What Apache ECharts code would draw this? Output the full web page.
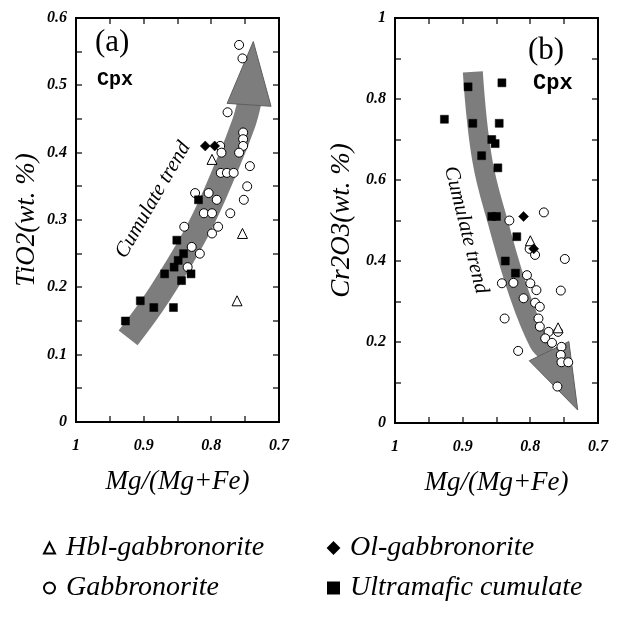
<!DOCTYPE html>
<html>
<head>
<meta charset="utf-8">
<script src="https://cdn.jsdelivr.net/npm/echarts@6/dist/echarts.min.js"></script>
<style>
  html, body { margin: 0; padding: 0; background: #fff; }
  #chart { width: 623px; height: 619px; }
</style>
</head>
<body>
<div id="chart"></div>
<script>
// (a) TiO2 vs Mg/(Mg+Fe)
var tiHbl = [[0.799, 0.39], [0.754, 0.28], [0.762, 0.18]]
var tiOl = [[0.809, 0.41], [0.795, 0.41]]
var tiGab = [
  [0.759, 0.56], [0.754, 0.54], [0.776, 0.46], [0.753, 0.43], [0.753, 0.42],
  [0.753, 0.41], [0.759, 0.40], [0.787, 0.41], [0.785, 0.40], [0.743, 0.38],
  [0.786, 0.37], [0.777, 0.37], [0.767, 0.37], [0.747, 0.35], [0.752, 0.33],
  [0.824, 0.34], [0.804, 0.34], [0.792, 0.33], [0.811, 0.31], [0.799, 0.31],
  [0.772, 0.31], [0.799, 0.28], [0.790, 0.29], [0.840, 0.29], [0.829, 0.26],
  [0.817, 0.25], [0.835, 0.23]
]
var tiUltra = [
  [0.819, 0.33], [0.851, 0.27], [0.841, 0.25], [0.849, 0.24], [0.855, 0.23],
  [0.869, 0.22], [0.844, 0.21], [0.830, 0.22], [0.905, 0.18], [0.885, 0.17],
  [0.856, 0.17], [0.927, 0.15]
]
// trend arrow centre line, last point = arrow tip
var tiTrend = [[0.923, 0.125], [0.879, 0.186], [0.820, 0.285], [0.775, 0.385], [0.752, 0.444], [0.744, 0.474], [0.738, 0.565]]

// (b) Cr2O3 vs Mg/(Mg+Fe)
var crHbl = [[0.800, 0.45], [0.759, 0.235]]
var crOl = [[0.810, 0.51], [0.795, 0.43]]
var crGab = [
  [0.780, 0.52], [0.831, 0.50], [0.801, 0.43], [0.793, 0.415], [0.749, 0.405],
  [0.842, 0.345], [0.825, 0.346], [0.805, 0.365], [0.800, 0.345], [0.810, 0.308],
  [0.791, 0.328], [0.793, 0.297], [0.786, 0.287], [0.755, 0.327], [0.788, 0.258],
  [0.786, 0.238], [0.838, 0.258], [0.773, 0.225], [0.778, 0.209], [0.768, 0.198],
  [0.759, 0.225], [0.754, 0.188], [0.755, 0.168], [0.754, 0.150], [0.744, 0.150],
  [0.818, 0.178], [0.760, 0.090]
]
var crUltra = [
  [0.842, 0.84], [0.892, 0.83], [0.927, 0.75], [0.885, 0.74], [0.846, 0.74],
  [0.857, 0.70], [0.852, 0.69], [0.872, 0.66], [0.848, 0.63], [0.857, 0.51],
  [0.850, 0.51], [0.820, 0.46], [0.837, 0.40], [0.822, 0.37]
]
var crTrend = [[0.885, 0.867], [0.871, 0.649], [0.846, 0.484], [0.817, 0.321], [0.787, 0.198], [0.771, 0.173], [0.730, 0.032]]

// tick positions (frame marks)
var xTicks = [0.7, 0.75, 0.8, 0.85, 0.9, 0.95, 1]
var tiYTicks = [0, 0.05, 0.1, 0.15, 0.2, 0.25, 0.3, 0.35, 0.4, 0.45, 0.5, 0.55, 0.6]
var crYTicks = [0, 0.1, 0.2, 0.3, 0.4, 0.5, 0.6, 0.7, 0.8, 0.9, 1]

var serif = 'Liberation Serif'

function fmt(v) {
  return String(Math.round(v * 10) / 10)
}

function xAxisFor(grid) {
  return {
    gridIndex: grid,
    type: 'value',
    min: 0.7,
    max: 1,
    interval: 0.05,
    inverse: true,
    name: 'Mg/(Mg+Fe)',
    nameLocation: 'middle',
    nameGap: 46,
    nameTextStyle: { fontFamily: serif, fontStyle: 'italic', fontSize: 27, color: '#000' },
    axisLine: { show: false },
    axisTick: { show: false },
    axisLabel: {
      margin: 16,
      color: '#000',
      fontFamily: serif,
      fontStyle: 'italic',
      fontWeight: 'bold',
      fontSize: 16,
      formatter: function (v) {
        return Math.round(v * 100) % 10 === 0 ? fmt(v) : ''
      },
    },
    splitLine: { show: false },
  }
}

function yAxisFor(grid, max, interval, step, name, gap) {
  return {
    gridIndex: grid,
    type: 'value',
    min: 0,
    max: max,
    interval: interval,
    name: name,
    nameLocation: 'middle',
    nameGap: gap,
    nameTextStyle: { fontFamily: serif, fontStyle: 'italic', fontSize: 27, color: '#000' },
    axisLine: { show: false },
    axisTick: { show: false },
    axisLabel: {
      margin: 9,
      color: '#000',
      fontFamily: serif,
      fontStyle: 'italic',
      fontWeight: 'bold',
      fontSize: 16,
      formatter: function (v) {
        return Math.round(v * 100) % step === 0 ? fmt(v) : ''
      },
    },
    splitLine: { show: false },
  }
}

// box with inward ticks on all four sides, as thin filled bars placed
// through the axes' scales
function frameSeries(idx, yMax, yTicks) {
  return {
    type: 'custom',
    xAxisIndex: idx,
    yAxisIndex: idx,
    silent: true,
    clip: false,
    z: 6,
    data: [[0.7, 0]],
    renderItem: function (params, api) {
      var a = api.coord([0.7, 0])
      var b = api.coord([1, yMax])
      var l = Math.round(Math.min(a[0], b[0]))
      var r = Math.round(Math.max(a[0], b[0]))
      var t = Math.round(Math.min(a[1], b[1]))
      var btm = Math.round(Math.max(a[1], b[1]))
      var bar = function (x, y, w, h) {
        return { type: 'rect', shape: { x: x, y: y, width: w, height: h }, style: { fill: '#000' } }
      }
      var kids = [
        bar(l - 1, t - 1, r - l + 2, 2),
        bar(l - 1, btm - 1, r - l + 2, 2),
        bar(l - 1, t - 1, 2, btm - t + 2),
        bar(r - 1, t - 1, 2, btm - t + 2),
      ]
      xTicks.forEach(function (v) {
        var px = Math.round(api.coord([v, 0])[0])
        kids.push(bar(px - 0.6, btm - 6, 1.2, 6))
        kids.push(bar(px - 0.6, t, 1.2, 6))
      })
      yTicks.forEach(function (v) {
        var py = Math.round(api.coord([0.7, v])[1])
        kids.push(bar(l, py - 0.6, 6, 1.2))
        kids.push(bar(r - 6, py - 0.6, 6, 1.2))
      })
      return { type: 'group', children: kids }
    },
  }
}

// shaded band with arrow head, drawn in data space
function trendSeries(trend, idx, bandW, headW) {
  return {
    type: 'custom',
    xAxisIndex: idx,
    yAxisIndex: idx,
    silent: true,
    z: 1,
    data: trend,
    renderItem: function (params, api) {
      if (params.dataIndex !== 0) return null
      var pts = trend.map(function (p) { return api.coord(p) })
      var n = pts.length
      var base = pts[n - 2]
      var tip = pts[n - 1]
      var dx = tip[0] - base[0]
      var dy = tip[1] - base[1]
      var len = Math.sqrt(dx * dx + dy * dy)
      var nx = -dy / len
      var ny = dx / len
      return {
        type: 'group',
        children: [
          {
            type: 'polyline',
            shape: { points: pts.slice(0, n - 1), smooth: 0.4 },
            style: { stroke: '#7d7d7d', lineWidth: bandW, fill: null, lineCap: 'butt' },
          },
          {
            type: 'polygon',
            shape: {
              points: [
                [base[0] + nx * headW - dx / len * 2, base[1] + ny * headW - dy / len * 2],
                tip,
                [base[0] - nx * headW - dx / len * 2, base[1] - ny * headW - dy / len * 2],
              ],
            },
            style: { fill: '#7d7d7d', stroke: '#5e5e5e', lineWidth: 1 },
          },
        ],
      }
    },
  }
}

function scatter(name, data, idx, symbol, size, filled) {
  return {
    name: name,
    type: 'scatter',
    xAxisIndex: idx,
    yAxisIndex: idx,
    data: data,
    symbol: symbol,
    symbolSize: size,
    z: 3,
    itemStyle: filled
      ? { color: '#000', borderColor: '#000', borderWidth: 0.5, opacity: 1 }
      : { color: '#fff', borderColor: '#000', borderWidth: 1, opacity: 1 },
    emphasis: { disabled: true },
  }
}

var legendText = { fontFamily: serif, fontStyle: 'italic', fontSize: 28, color: '#000', lineHeight: 28, padding: [0, 0, 0, 6] }

var chart = echarts.init(document.getElementById('chart'), null, { renderer: 'canvas' })
chart.setOption({
  animation: false,
  grid: [
    { left: 76, right: 344, top: 18, bottom: 197 },
    { left: 395, right: 25, top: 18, bottom: 196 },
  ],
  xAxis: [xAxisFor(0), xAxisFor(1)],
  yAxis: [
    yAxisFor(0, 0.6, 0.05, 10, 'TiO2(wt. %)', 36),
    yAxisFor(1, 1, 0.1, 20, 'Cr2O3(wt. %)', 40),
  ],
  legend: [
    {
      data: ['Hbl-gabbronorite', 'Gabbronorite'],
      orient: 'vertical',
      left: 43,
      top: 534,
      itemWidth: 11,
      itemHeight: 11,
      itemGap: 12,
      padding: 0,
      textStyle: legendText,
    },
    {
      data: ['Ol-gabbronorite', 'Ultramafic cumulate'],
      orient: 'vertical',
      left: 327,
      top: 534,
      itemWidth: 11,
      itemHeight: 11,
      itemGap: 12,
      padding: 0,
      textStyle: legendText,
    },
  ],
  graphic: [
    { type: 'text', x: 95, y: 43, style: { text: '(a)', fontFamily: serif, fontSize: 31, fill: '#000', textVerticalAlign: 'middle' } },
    { type: 'text', x: 97, y: 80, style: { text: 'Cpx', fontFamily: 'Liberation Mono', fontWeight: 'bold', fontSize: 20, fill: '#000', textVerticalAlign: 'middle' } },
    { type: 'text', x: 528, y: 51, style: { text: '(b)', fontFamily: serif, fontSize: 31, fill: '#000', textVerticalAlign: 'middle' } },
    { type: 'text', x: 533, y: 83, style: { text: 'Cpx', fontFamily: 'Liberation Mono', fontWeight: 'bold', fontSize: 22, fill: '#000', textVerticalAlign: 'middle' } },
    {
      type: 'text', x: 153, y: 200, rotation: 60 * Math.PI / 180,
      style: { text: 'Cumulate trend', fontFamily: serif, fontStyle: 'italic', fontSize: 21, fill: '#000', textAlign: 'center', textVerticalAlign: 'middle' },
    },
    {
      type: 'text', x: 466, y: 230, rotation: -76 * Math.PI / 180,
      style: { text: 'Cumulate trend', fontFamily: serif, fontStyle: 'italic', fontSize: 21, fill: '#000', textAlign: 'center', textVerticalAlign: 'middle' },
    },
  ],
  series: [
    trendSeries(tiTrend, 0, 24, 22),
    scatter('Gabbronorite', tiGab, 0, 'circle', 9, false),
    scatter('Hbl-gabbronorite', tiHbl, 0, 'triangle', 10, false),
    scatter('Ol-gabbronorite', tiOl, 0, 'diamond', 10, true),
    scatter('Ultramafic cumulate', tiUltra, 0, 'rect', 8, true),
    frameSeries(0, 0.6, tiYTicks),
    trendSeries(crTrend, 1, 20, 22),
    scatter('Gabbronorite', crGab, 1, 'circle', 9, false),
    scatter('Hbl-gabbronorite', crHbl, 1, 'triangle', 10, false),
    scatter('Ol-gabbronorite', crOl, 1, 'diamond', 10, true),
    scatter('Ultramafic cumulate', crUltra, 1, 'rect', 8, true),
    frameSeries(1, 1, crYTicks),
  ],
})
</script>
</body>
</html>
